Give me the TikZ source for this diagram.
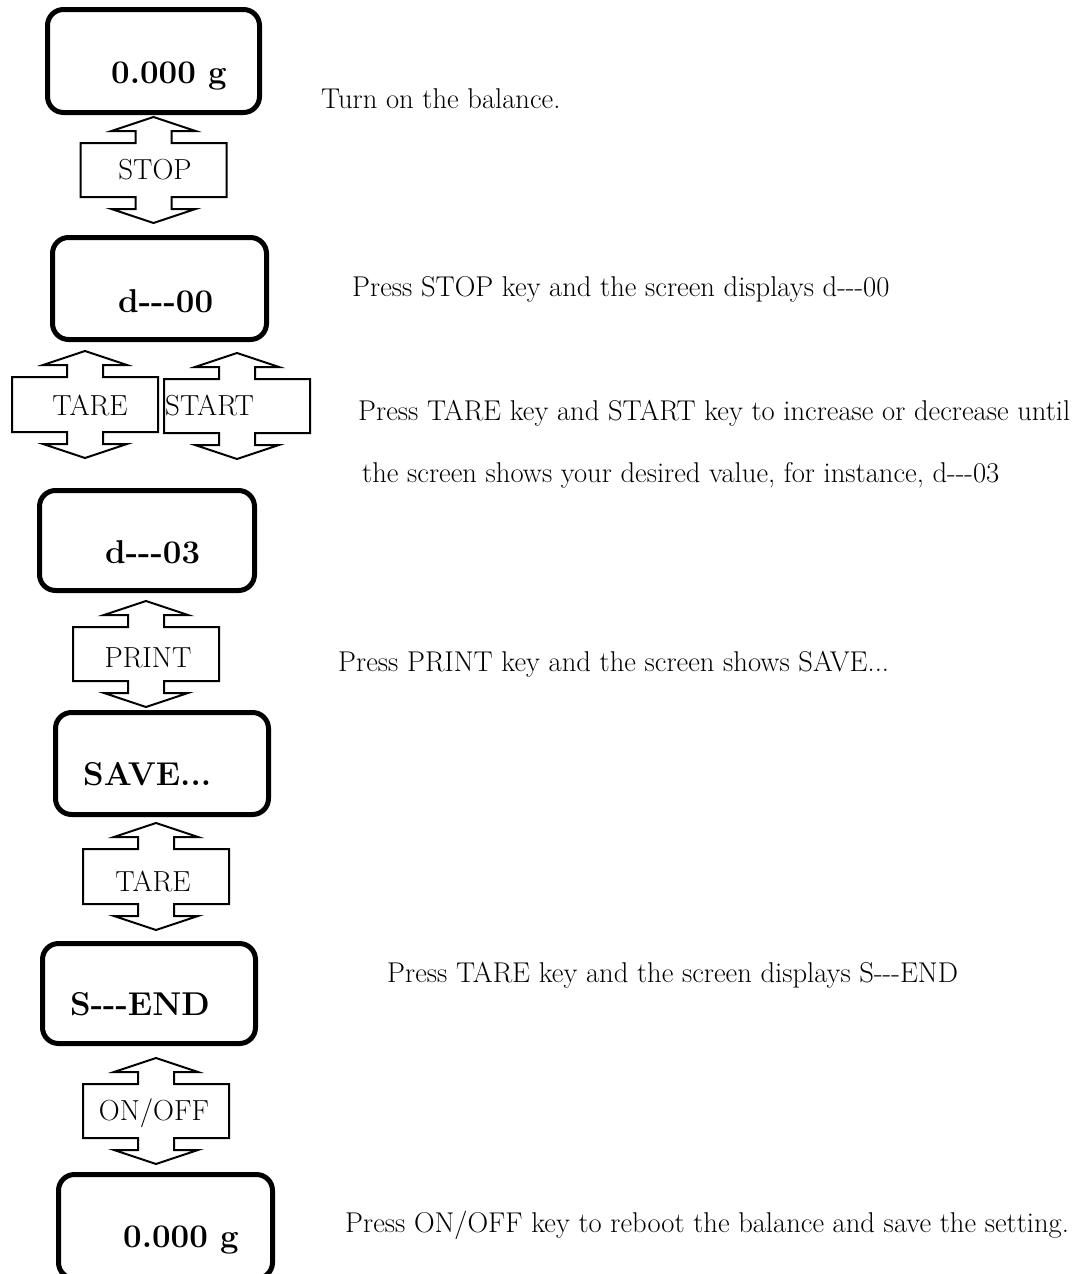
\documentclass[tikz,border=0pt]{standalone}
\usepackage{fontspec}
\newcommand\hyp{-{}-{}-}
\newcommand\keyarr[3]{%
  \draw[keyarrow] (#1,#2) -- (#1+42,#2+14) -- (#1+18,#2+14) -- (#1+18,#2+26)
    -- (#1+73,#2+26) -- (#1+73,#3-26) -- (#1+18,#3-26) -- (#1+18,#3-14)
    -- (#1+42,#3-14) -- (#1,#3) -- (#1-42,#3-14) -- (#1-18,#3-14)
    -- (#1-18,#3-26) -- (#1-73,#3-26) -- (#1-73,#2+26) -- (#1-18,#2+26)
    -- (#1-18,#2+14) -- (#1-42,#2+14) -- cycle;}
\begin{document}
\begin{tikzpicture}[x=1pt,y=-1pt,
  screen/.style={draw, line width=5pt, rounded corners=16pt, inner sep=0pt},
  keyarrow/.style={draw, line width=2pt, fill=white, line join=miter},
  keylabel/.style={anchor=base, inner sep=0pt, font=\fontsize{29}{33}\selectfont},
  disp/.style={anchor=base west, inner sep=0pt, font=\fontsize{33}{37}\selectfont\bfseries},
  note/.style={anchor=base west, inner sep=0pt, font=\fontsize{28.6}{33}\selectfont}]
\useasboundingbox (0,0) rectangle (1080,1274);
\clip (0,0) rectangle (1080,1274);

% display screens
\node[screen, minimum width=212pt, minimum height=103pt] (b1) at (153.5,61) {};
\node[screen, minimum width=214pt, minimum height=102pt] (b2) at (159.5,288.5) {};
\node[screen, minimum width=215pt, minimum height=100pt] (b3) at (147,540.5) {};
\node[screen, minimum width=213pt, minimum height=102pt] (b4) at (162,763.5) {};
\node[screen, minimum width=213pt, minimum height=100pt] (b5) at (149,993.5) {};
\node[screen, minimum width=214pt, minimum height=104pt] (b6) at (165.5,1226.5) {};

% key arrows
\keyarr{153.5}{117}{223}
\keyarr{85}{351}{458}
\keyarr{237}{353}{459}
\keyarr{146}{601}{707}
\keyarr{156}{823}{930}
\keyarr{156}{1058}{1164}

% key labels
\node[keylabel] (k1) at (155,179) {STOP};
\node[keylabel] (k2) at (90,415) {TARE};
\node[keylabel, anchor=base west] (k3) at (165,415) {START};
\node[keylabel] (k4) at (148,667) {PRINT};
\node[keylabel] (k5) at (153,891) {TARE};
\node[keylabel] (k6) at (154,1120) {ON/OFF};

% display texts
\node[disp] (d1) at (111,83) {0.000 g};
\node[disp] (d2) at (118,312) {d\hyp00};
\node[disp] (d3) at (105,563) {d\hyp03};
\node[disp] (d4) at (83,785) {SAVE...};
\node[disp] (d5) at (70,1015) {S\hyp END};
\node[disp] (d6) at (123,1247) {0.000 g};

% notes
\node[note] (n1) at (321,108) {Turn on the balance.};
\node[note] (n2) at (352,296) {Press STOP key and the screen displays d\hyp00};
\node[note] (n3) at (358,420) {Press TARE key and START key to increase or decrease until};
\node[note] (n4) at (362,482) {the screen shows your desired value, for instance, d\hyp03};
\node[note] (n5) at (338,671) {Press PRINT key and the screen shows SAVE...};
\node[note] (n6) at (387,982) {Press TARE key and the screen displays S\hyp END};
\node[note] (n7) at (345,1232) {Press ON/OFF key to reboot the balance and save the setting.};
\end{tikzpicture}
\end{document}
